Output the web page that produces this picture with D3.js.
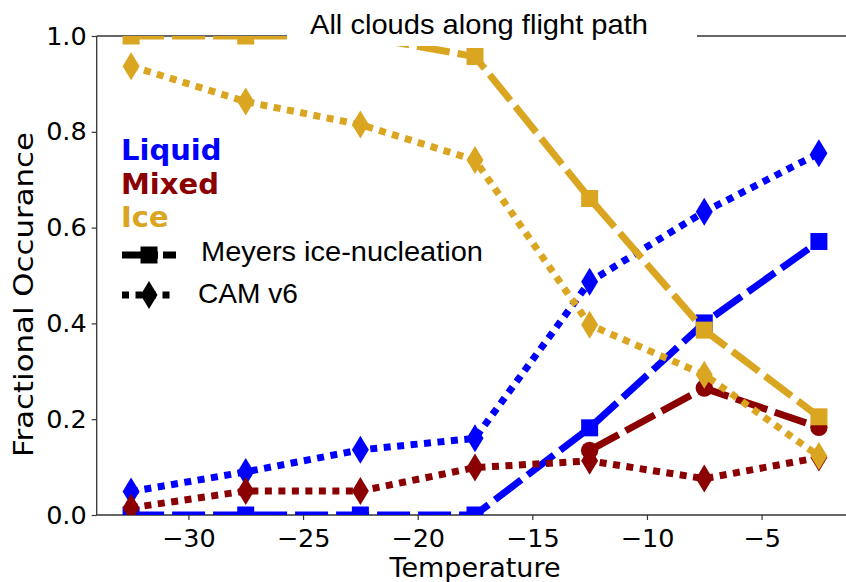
<!DOCTYPE html>
<html>
<head>
<meta charset="utf-8">
<script src="https://cdn.jsdelivr.net/npm/d3@7"></script>
<style>
body { margin: 0; background: #fff; }
svg { display: block; }
.tick text { font-family: "DejaVu Sans"; font-size: 25.5px; fill: #000; }
</style>
</head>
<body>
<svg id="chart" width="846" height="582"></svg>
<script>
// bin centres (deg C)
var temps = [-32.5, -27.5, -22.5, -17.5, -12.5, -7.5, -2.5];

var liquid_meyers = [0, 0, 0, 0, 0.182, 0.401, 0.571];
var liquid_cam = [0.049, 0.09, 0.136, 0.16, 0.487, 0.633, 0.755];
var mixed_meyers = [null, null, null, null, 0.135, 0.265, 0.183];
var mixed_cam = [0.015, 0.05, 0.05, 0.099, 0.113, 0.076, 0.12];
var ice_meyers = [1, 1, 1, 0.957, 0.661, 0.386, 0.205];
var ice_cam = [0.937, 0.863, 0.815, 0.741, 0.397, 0.293, 0.123];

var x_ticks = [-30, -25, -20, -15, -10, -5];
var y_ticks = [0, 0.2, 0.4, 0.6, 0.8, 1.0];

var phase_names = ['Liquid', 'Mixed', 'Ice'];
var model_names = ['Meyers ice-nucleation', 'CAM v6'];

var colors = {Liquid: '#0000ff', Mixed: '#8b0000', Ice: '#daa520'};

var series = [
    {phase: 'Liquid', model: 'meyers', values: liquid_meyers},
    {phase: 'Liquid', model: 'cam', values: liquid_cam},
    {phase: 'Mixed', model: 'meyers', values: mixed_meyers, marker: 'circle'},
    {phase: 'Mixed', model: 'cam', values: mixed_cam},
    {phase: 'Ice', model: 'meyers', values: ice_meyers},
    {phase: 'Ice', model: 'cam', values: ice_cam}
];

draw_chart();

function draw_chart(){
    var plot = {left: 96.7, right: 853.3, top: 36, bottom: 515};
    var dash = {meyers: '33,8', cam: '7,6.5'};

    var svg = d3.select('#chart');

    var x_scale = d3.scaleLinear().domain([-34, -1]).range([plot.left, plot.right]);
    var y_scale = d3.scaleLinear().domain([0, 1]).range([plot.bottom, plot.top]);

    svg.append('defs').append('clipPath').attr('id', 'plot-clip')
        .append('rect')
        .attr('x', plot.left).attr('y', plot.top)
        .attr('width', plot.right - plot.left).attr('height', plot.bottom - plot.top);

    // axes
    var x_axis = svg.append('g').attr('transform', 'translate(0,' + plot.bottom + ')')
        .call(d3.axisBottom(x_scale).tickValues(x_ticks).tickSize(5).tickPadding(5)
            .tickFormat(function(d){ return d3.format('d')(d).replace('-', '\u2212'); }));
    var y_axis = svg.append('g').attr('transform', 'translate(' + plot.left + ',0)')
        .call(d3.axisLeft(y_scale).tickValues(y_ticks).tickSize(5).tickPadding(5)
            .tickFormat(d3.format('.1f')));
    [x_axis, y_axis].forEach(function(ax){
        ax.select('.domain').remove();
        ax.selectAll('.tick line').attr('stroke', '#333').attr('stroke-width', 1.2);
    });
    x_axis.selectAll('.tick text').attr('dy', '0.85em');

    svg.append('line').attr('x1', plot.left).attr('x2', plot.right).attr('y1', plot.bottom).attr('y2', plot.bottom)
        .attr('stroke', '#333').attr('stroke-width', 1.3);
    svg.append('line').attr('x1', plot.left).attr('x2', plot.left).attr('y1', plot.top).attr('y2', plot.bottom)
        .attr('stroke', '#333').attr('stroke-width', 1.3);
    svg.append('line').attr('x1', plot.left).attr('x2', plot.right).attr('y1', plot.top).attr('y2', plot.top)
        .attr('stroke', '#333').attr('stroke-width', 1.3);

    // data
    var plot_area = svg.append('g').attr('clip-path', 'url(#plot-clip)');

    var line = d3.line()
        .defined(function(d){ return d.v != null; })
        .x(function(d){ return x_scale(d.t); })
        .y(function(d){ return y_scale(d.v); });

    series.forEach(function(s){
        var pts = temps.map(function(t, i){ return {t: t, v: s.values[i]}; });
        var kind = s.marker || (s.model === 'meyers' ? 'square' : 'diamond');
        var g = plot_area.append('g');
        g.append('path').datum(pts)
            .attr('d', line)
            .attr('fill', 'none')
            .attr('stroke', colors[s.phase])
            .attr('stroke-width', 7)
            .attr('stroke-dasharray', dash[s.model]);
        g.selectAll('path.marker')
            .data(pts.filter(function(d){ return d.v != null; }))
            .enter().append('path')
            .attr('class', 'marker')
            .attr('d', marker_path(kind))
            .attr('transform', function(d){ return 'translate(' + x_scale(d.t) + ',' + y_scale(d.v) + ')'; })
            .attr('fill', colors[s.phase]);
    });

    // title with white box over the top spine
    svg.append('rect').attr('x', 287).attr('y', 0).attr('width', 410).attr('height', 46).attr('fill', '#fff');
    svg.append('text').attr('x', 479).attr('y', 33.5)
        .attr('text-anchor', 'middle')
        .style('font-family', 'Liberation Sans').style('font-size', '28.5px')
        .attr('textLength', 338).attr('lengthAdjust', 'spacingAndGlyphs')
        .text('All clouds along flight path');

    // axis labels
    svg.append('text').attr('x', 475).attr('y', 577)
        .attr('text-anchor', 'middle')
        .style('font-family', 'DejaVu Sans').style('font-size', '27px')
        .text('Temperature');
    svg.append('text')
        .attr('transform', 'translate(33,294.5) rotate(-90)')
        .attr('text-anchor', 'middle')
        .style('font-family', 'DejaVu Sans').style('font-size', '27px')
        .attr('textLength', 325).attr('lengthAdjust', 'spacingAndGlyphs')
        .text('Fractional Occurance');

    // legend
    var legend = svg.append('g');
    legend.selectAll('text.phase').data(phase_names).enter().append('text')
        .attr('class', 'phase')
        .attr('x', 121)
        .attr('y', function(d, i){ return 160 + i * 33.5; })
        .attr('fill', function(d){ return colors[d]; })
        .style('font-family', 'DejaVu Sans').style('font-size', '29px').style('font-weight', 'bold')
        .text(function(d){ return d; });

    var handles = [
        {y: 255, dash: '36,5', kind: 'square', tx: 201, ty: 261},
        {y: 295, dash: '7,6.5', kind: 'diamond', tx: 198, ty: 303}
    ];
    handles.forEach(function(h, i){
        legend.append('line').attr('x1', 122).attr('x2', 176).attr('y1', h.y).attr('y2', h.y)
            .attr('stroke', '#000').attr('stroke-width', 7).attr('stroke-dasharray', h.dash);
        legend.append('path').attr('d', marker_path(h.kind))
            .attr('transform', 'translate(149,' + h.y + ')').attr('fill', '#000');
        legend.append('text').attr('x', h.tx).attr('y', h.ty)
            .style('font-family', 'Liberation Sans').style('font-size', '28.5px')
            .attr('textLength', model_names[i].length > 10 ? 282 : 100)
            .attr('lengthAdjust', 'spacingAndGlyphs')
            .text(model_names[i]);
    });
}

function marker_path(kind){
    if (kind === 'square') return 'M-8.5,-8.5H8.5V8.5H-8.5Z';
    if (kind === 'circle') return d3.symbol().type(d3.symbolCircle).size(Math.PI * 8.7 * 8.7)();
    return 'M0,-14L8.5,0L0,14L-8.5,0Z';
}
</script>
</body>
</html>
